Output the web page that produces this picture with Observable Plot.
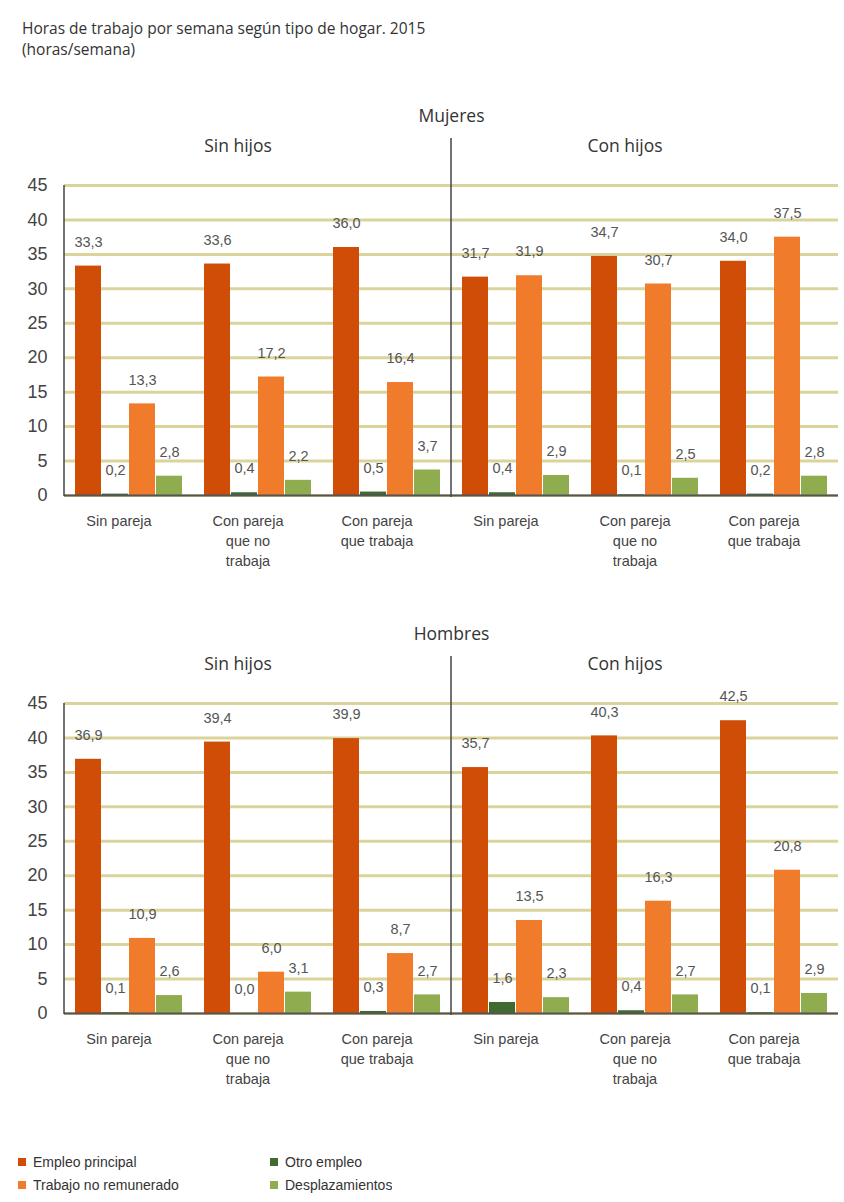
<!DOCTYPE html>
<html><head><meta charset="utf-8">
<script src="https://cdn.jsdelivr.net/npm/d3@7"></script>
<script src="https://cdn.jsdelivr.net/npm/@observablehq/plot@0.6"></script>
<style>
body{margin:0;background:#fff;width:844px;height:1202px;position:relative;overflow:hidden;font-family:"Liberation Sans",Arial,sans-serif;}
#title{position:absolute;left:22px;top:18px;font-family:"Open Sans",sans-serif;font-size:15.5px;line-height:21px;color:#333;}
#mujeres{position:absolute;left:0;top:100px}
#hombres{position:absolute;left:0;top:618px}
#legend{position:absolute;left:18px;top:1151px;width:490px}
</style></head><body>
<div id="title">Horas de trabajo por semana según tipo de hogar. 2015<br>(horas/semana)</div>
<div id="mujeres"></div><div id="hombres"></div><div id="legend"></div>
<script>
// ---- data ----
const hijos = ["Sin hijos", "Con hijos"];
const pareja = ["Sin pareja", "Con pareja\nque no\ntrabaja", "Con pareja\nque trabaja"];
const series = ["Empleo principal", "Otro empleo", "Trabajo no remunerado", "Desplazamientos"];
const legendOrder = ["Empleo principal", "Trabajo no remunerado", "Otro empleo", "Desplazamientos"];
const legendColors = ["#cf4d06", "#f07b2a", "#3f6b30", "#8fac4e"];
const yTicks = [0, 5, 10, 15, 20, 25, 30, 35, 40, 45];

// Mujeres: Sin hijos (3 groups), Con hijos (3 groups)
const mujeresEmpleo = [33.3, 33.6, 36.0, 31.7, 34.7, 34.0];
const mujeresOtro   = [0.2, 0.4, 0.5, 0.4, 0.1, 0.2];
const mujeresNoRem  = [13.3, 17.2, 16.4, 31.9, 30.7, 37.5];
const mujeresDespl  = [2.8, 2.2, 3.7, 2.9, 2.5, 2.8];
// Hombres
const hombresEmpleo = [36.9, 39.4, 39.9, 35.7, 40.3, 42.5];
const hombresOtro   = [0.1, 0.0, 0.3, 1.6, 0.4, 0.1];
const hombresNoRem  = [10.9, 6.0, 8.7, 13.5, 16.3, 20.8];
const hombresDespl  = [2.6, 3.1, 2.7, 2.3, 2.7, 2.9];

const groupKeys = hijos.flatMap(h => pareja.map(p => h + "|" + p));
const fmt = v => v.toFixed(1).replace(".", ",");

function table(arrays) {
  const rows = [];
  series.forEach((s, si) => arrays[si].forEach((v, gi) => rows.push({group: groupKeys[gi], serie: s, value: v})));
  return rows;
}

function panel(label, data) {
  const plot = Plot.plot({
    width: 844, height: 475,
    marginTop: 85, marginBottom: 80, marginLeft: 62, marginRight: 4,
    style: {fontFamily: "'Liberation Sans', Arial, sans-serif", color: "#444", background: "#fff"},
    fx: {domain: groupKeys, padding: 0, label: null},
    x: {domain: series, paddingInner: 0.05, paddingOuter: 0.4, axis: null},
    y: {domain: [0, 45], label: null},
    color: {domain: legendOrder, range: legendColors},
    marks: [
      Plot.ruleY(yTicks, {stroke: "#dad49c", strokeWidth: 3}),
      Plot.barY(data, {fx: "group", x: "serie", y: "value", fill: "serie"}),
      Plot.ruleY([0], {stroke: "#555", strokeWidth: 2}),
      Plot.text(data, {fx: "group", x: "serie", y: "value", text: d => fmt(d.value), dy: -24, fontSize: 14.5, fill: "#555"}),
      Plot.axisY({ticks: yTicks, tickSize: 0, tickPadding: 17, fontSize: 18, fill: "#444", label: null, tickFormat: d => String(d)}),
      Plot.axisFx({anchor: "bottom", tickSize: 0, tickPadding: 17, dx: -10, fontSize: 14.5, lineHeight: 1.35, fill: "#444", label: null, tickFormat: k => k.split("|")[1]}),
      Plot.text([{k: groupKeys[1], t: hijos[0]}, {k: groupKeys[4], t: hijos[1]}],
        {fx: "k", text: "t", frameAnchor: "top", dy: -46, dx: -20, fontSize: 17.5, fill: "#333", fontFamily: "'Open Sans', sans-serif"}),
      Plot.text([{k: groupKeys[3], t: label}],
        {fx: "k", text: "t", frameAnchor: "top-left", textAnchor: "middle", dy: -76, fontSize: 17.5, fill: "#333", fontFamily: "'Open Sans', sans-serif"})
    ]
  });
  // divider and left axis line placed from the plot's own scales
  const fx = plot.scale("fx"), y = plot.scale("y");
  const fxPos = k => fx.apply ? fx.apply(k) : fx.range[0] + fx.domain.indexOf(k) * fx.step;
  const yPos = v => y.apply ? y.apply(v) : y.range[0] + (y.range[1] - y.range[0]) * (v - y.domain[0]) / (y.domain[1] - y.domain[0]);
  const svg = d3.select(plot);
  const y0 = yPos(0), yTop = yPos(45);
  const xd = fxPos(groupKeys[3]), xl = fxPos(groupKeys[0]);
  svg.append("line").attr("x1", xd).attr("x2", xd).attr("y1", yTop - 47).attr("y2", y0 + 2)
    .attr("stroke", "#444").attr("stroke-width", 1.5);
  svg.append("line").attr("x1", xl).attr("x2", xl).attr("y1", yTop).attr("y2", y0 + 1)
    .attr("stroke", "#444").attr("stroke-width", 1.5);
  return plot;
}

document.getElementById("mujeres").append(panel("Mujeres", table([mujeresEmpleo, mujeresOtro, mujeresNoRem, mujeresDespl])));
document.getElementById("hombres").append(panel("Hombres", table([hombresEmpleo, hombresOtro, hombresNoRem, hombresDespl])));

document.getElementById("legend").append(Plot.legend({
  color: {domain: legendOrder, range: legendColors},
  columns: 2, swatchSize: 8,
  style: {fontFamily: "'Liberation Sans', Arial, sans-serif", fontSize: "14px", lineHeight: "22px", color: "#333"}
}));
</script>
</body></html>
